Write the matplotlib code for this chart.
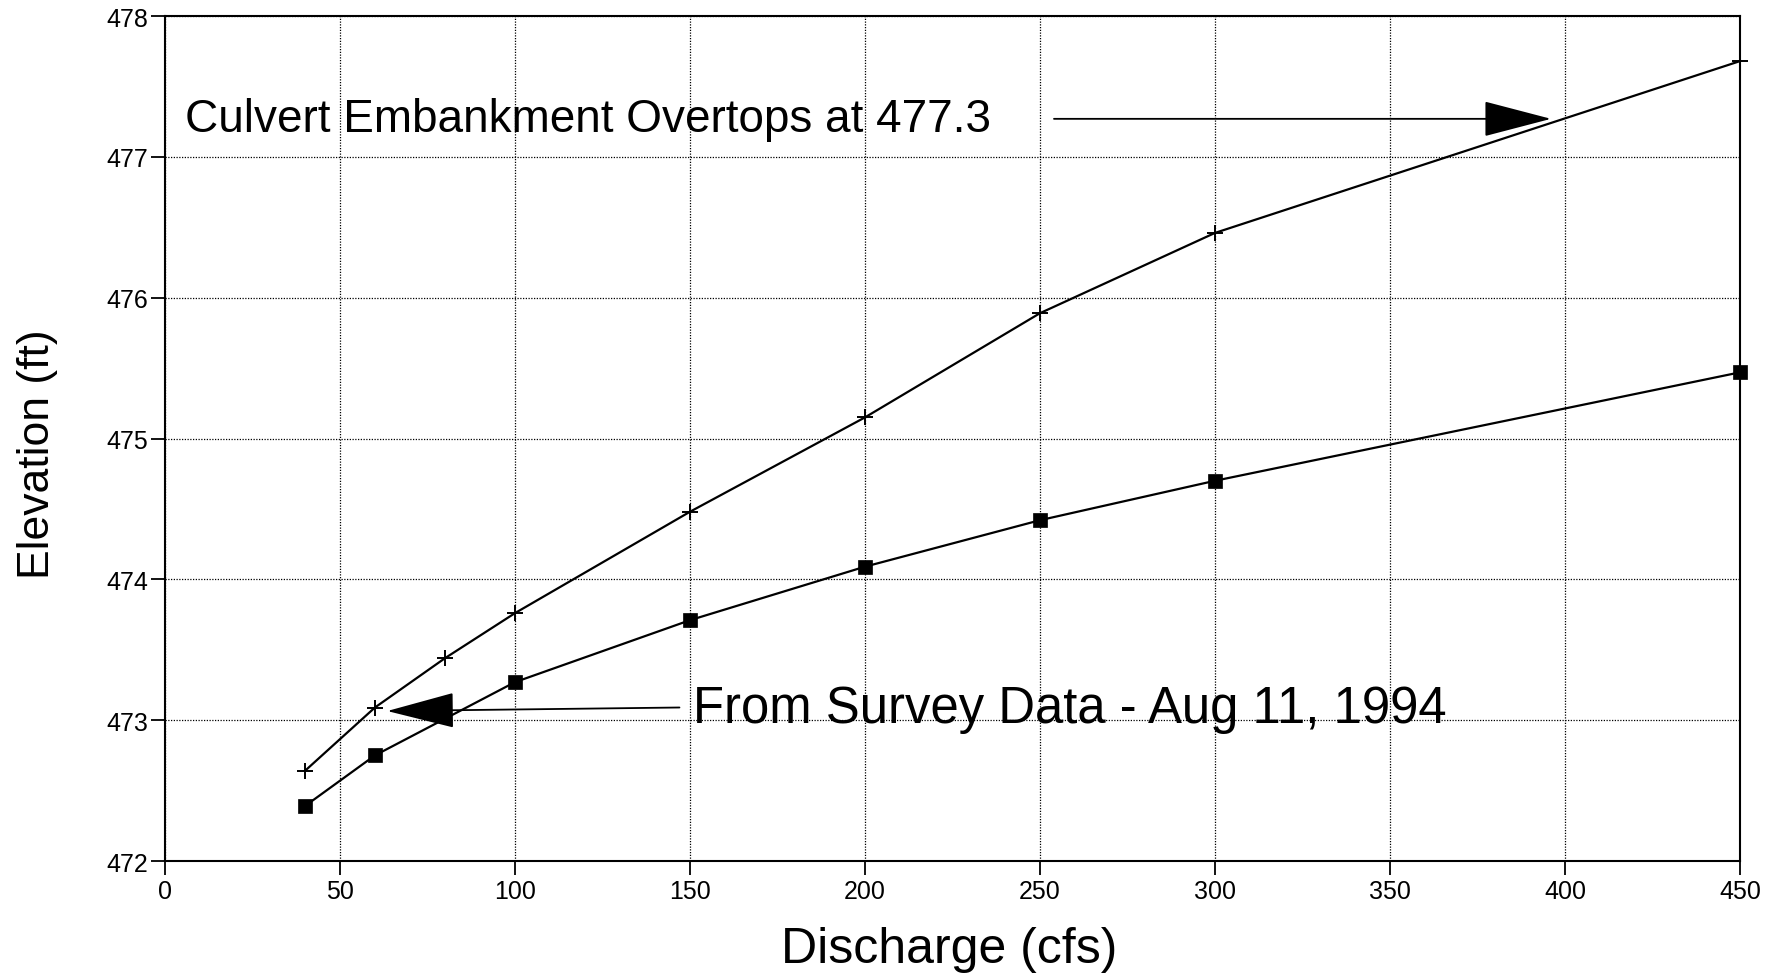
import matplotlib
matplotlib.use("Agg")
import matplotlib.pyplot as plt

# Data
discharge_cross = [40, 60, 80, 100, 150, 200, 250, 300, 450]
elev_cross = [472.64, 473.09, 473.44, 473.76, 474.48, 475.15, 475.89, 476.46, 477.68]
discharge_square = [40, 60, 100, 150, 200, 250, 300, 450]
elev_square = [472.39, 472.75, 473.27, 473.71, 474.09, 474.42, 474.70, 475.47]
xticks = [0, 50, 100, 150, 200, 250, 300, 350, 400, 450]
yticks = [472, 473, 474, 475, 476, 477, 478]

fig = plt.figure(figsize=(17.81, 9.79), dpi=100)
ax = fig.add_axes([0.0926, 0.1195, 0.8844, 0.8631])

ax.plot(discharge_cross, elev_cross, color="black", lw=1.6, marker="+",
        markersize=11, markeredgewidth=1.4, clip_on=False)
ax.plot(discharge_square, elev_square, color="black", lw=1.6, marker="s",
        markersize=9.5, markeredgewidth=0.5, clip_on=False)

ax.set_xlim(0, 450)
ax.set_ylim(472, 478)
ax.set_xticks(xticks)
ax.set_yticks(yticks)
ax.grid(True, color="black", linestyle=(0, (1, 1.2)), linewidth=0.9)
for s in ax.spines.values():
    s.set_linewidth(1.5)
ax.tick_params(direction="out", length=10, width=1.3,
               labelsize=18, labelfontfamily="Liberation Sans")
ax.tick_params(axis="x", pad=3)
ax.tick_params(axis="y", pad=2)

ax.set_xlabel("Discharge (cfs)", family="Liberation Sans", fontsize=36)
ax.set_ylabel("Elevation (ft)", family="Liberation Sans", fontsize=32)
ax.xaxis.set_label_coords(0.498, -0.077)
ax.yaxis.set_label_coords(-0.068, 0.483)

ax.text(5.8, 477.27, "Culvert Embankment Overtops at 477.3", family="Liberation Sans",
        fontsize=33, va="center", ha="left")
ax.annotate("", xy=(396, 477.27), xytext=(254, 477.27),
            arrowprops=dict(arrowstyle="-|>,head_length=4.4,head_width=1.15",
                            color="black", lw=1.3, shrinkA=0, shrinkB=0))

ax.text(151, 473.08, "From Survey Data - Aug 11, 1994", family="Liberation Sans",
        fontsize=36.6, va="center", ha="left")
ax.annotate("", xy=(63.5, 473.065), xytext=(147, 473.09),
            arrowprops=dict(arrowstyle="-|>,head_length=4.4,head_width=1.15",
                            color="black", lw=1.3, shrinkA=0, shrinkB=0))

fig.savefig("out.png", dpi=100)
